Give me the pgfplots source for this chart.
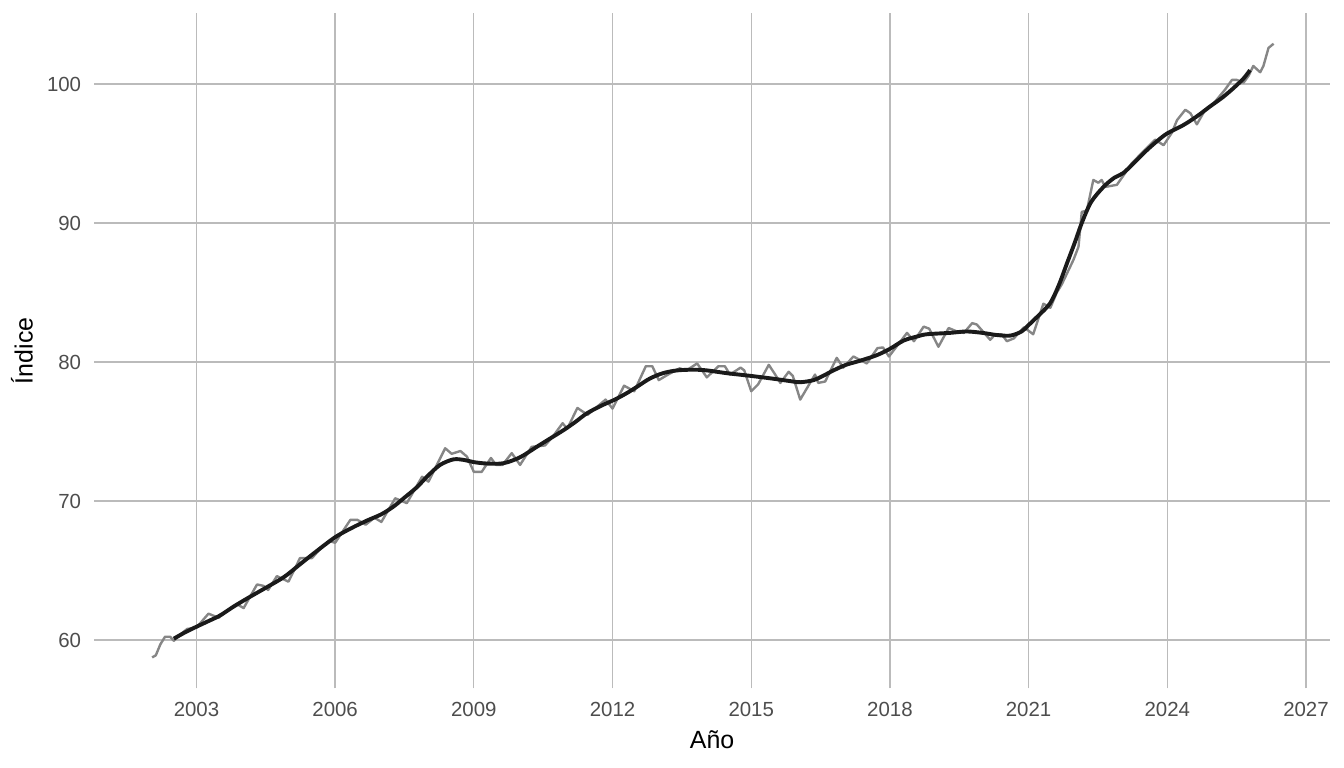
\documentclass[border=0pt]{standalone}
\usepackage{fontspec}
\setmainfont{Liberation Sans}
\usepackage{pgfplots}
\pgfplotsset{compat=1.18}
\definecolor{gridc}{HTML}{BBBBBB}
\definecolor{ticktext}{HTML}{4D4D4D}
\definecolor{rawc}{HTML}{868686}
\definecolor{smoothc}{HTML}{1A1A1A}

\begin{document}
\begin{tikzpicture}
\path[use as bounding box] (0,0) rectangle (1344bp,768bp);
\begin{axis}[
  at={(94.3bp,79.7bp)}, anchor=south west,
  scale only axis, width=1235.7bp, height=675bp,
  xmin=2000.79, xmax=2027.52, ymin=56.53, ymax=105.09,
  axis line style={draw=none},
  major tick length=0pt,
  xtick={2003,2006,...,2027}, ytick={60,70,...,100},
  grid=major, major grid style={gridc, line width=1.3bp},
  tick label style={font=\fontsize{20.5}{24}\selectfont, text=ticktext},
  /pgf/number format/assume math mode=true,
  /pgf/number format/1000 sep={},
  xticklabel style={anchor=north, inner sep=0pt, yshift=-14bp},
  yticklabel style={anchor=east, inner sep=0pt, xshift=-13bp},
  xlabel={Año}, ylabel={Índice},
  label style={font=\fontsize{25}{29}\selectfont, text=black},
  xlabel style={at={(axis description cs:0.5,-0.0899)}, anchor=base, inner sep=0pt},
  ylabel style={at={(axis description cs:-0.0499,0.5)}, anchor=base, inner sep=0pt},
]

% serie original
\addplot[rawc, line width=2.4bp, line join=round] coordinates {
(2002.04,58.75) (2002.12,58.90) (2002.22,59.70) (2002.32,60.24) (2002.43,60.24)
(2002.51,59.95) (2002.65,60.40) (2002.80,60.80) (2003.00,60.90) (2003.26,61.90)
(2003.48,61.60) (2003.70,62.20) (2003.87,62.60) (2004.02,62.30) (2004.31,64.00)
(2004.45,63.90) (2004.55,63.60) (2004.74,64.60) (2004.99,64.20) (2005.24,65.90)
(2005.50,65.90) (2005.74,66.80) (2005.90,67.10) (2006.00,67.00) (2006.33,68.65)
(2006.48,68.65) (2006.66,68.30) (2006.85,68.80) (2007.00,68.50) (2007.30,70.20)
(2007.55,69.85) (2007.88,71.75) (2008.02,71.40) (2008.38,73.80) (2008.52,73.40)
(2008.71,73.60) (2008.85,73.20) (2009.00,72.10) (2009.17,72.10) (2009.37,73.10)
(2009.48,72.60) (2009.62,72.60) (2009.82,73.45) (2010.00,72.60) (2010.25,73.90)
(2010.54,74.00) (2010.70,74.60) (2010.92,75.60) (2011.02,75.20) (2011.24,76.70)
(2011.46,76.20) (2011.85,77.30) (2012.00,76.65) (2012.25,78.30) (2012.47,77.90)
(2012.72,79.70) (2012.86,79.70) (2013.00,78.70) (2013.20,79.10) (2013.45,79.55)
(2013.60,79.40) (2013.83,79.90) (2014.04,78.90) (2014.29,79.70) (2014.43,79.70)
(2014.54,79.10) (2014.77,79.60) (2014.85,79.40) (2015.00,77.90) (2015.15,78.40)
(2015.38,79.80) (2015.50,79.20) (2015.63,78.50) (2015.81,79.30) (2015.90,79.00)
(2016.06,77.30) (2016.38,79.10) (2016.45,78.50) (2016.60,78.60) (2016.85,80.30)
(2016.99,79.60) (2017.21,80.40) (2017.50,79.90) (2017.73,81.00) (2017.85,81.05)
(2017.98,80.40) (2018.37,82.10) (2018.52,81.50) (2018.73,82.55) (2018.85,82.40)
(2019.05,81.10) (2019.27,82.45) (2019.45,82.20) (2019.60,82.10) (2019.78,82.80)
(2019.88,82.70) (2020.17,81.60) (2020.28,82.00) (2020.42,82.00) (2020.53,81.50)
(2020.68,81.70) (2020.90,82.50) (2021.10,82.00) (2021.32,84.20) (2021.47,83.90)
(2021.61,85.00) (2021.72,85.60) (2021.97,87.35) (2022.08,88.30) (2022.15,90.80)
(2022.26,90.90) (2022.40,93.10) (2022.51,92.90) (2022.58,93.10) (2022.66,92.60)
(2022.91,92.75) (2023.09,93.60) (2023.23,94.30) (2023.41,94.90) (2023.56,95.40)
(2023.74,96.00) (2023.92,95.60) (2024.10,96.50) (2024.21,97.40) (2024.39,98.15)
(2024.50,97.90) (2024.64,97.10) (2024.82,98.15) (2025.00,98.60) (2025.25,99.60)
(2025.40,100.30) (2025.50,100.30) (2025.65,100.10) (2025.76,100.60) (2025.86,101.30)
(2026.01,100.85) (2026.08,101.30) (2026.19,102.60) (2026.30,102.90)
};

% tendencia suavizada
\addplot[smoothc, line width=3.9bp, smooth, tension=0.5] coordinates {
(2002.51,60.10) (2002.75,60.55) (2003.00,60.96) (2003.25,61.35) (2003.50,61.75)
(2003.80,62.40) (2004.10,63.00) (2004.52,63.80) (2004.90,64.55) (2005.24,65.45)
(2005.60,66.40) (2006.00,67.40) (2006.35,68.05) (2006.69,68.60) (2007.00,69.05)
(2007.26,69.60) (2007.50,70.25) (2007.77,71.00) (2008.00,71.80) (2008.27,72.60)
(2008.56,73.00) (2008.80,72.95) (2009.00,72.80) (2009.28,72.70) (2009.64,72.72)
(2010.00,73.15) (2010.36,73.90) (2010.65,74.50) (2010.94,75.10) (2011.20,75.70)
(2011.44,76.30) (2011.75,76.85) (2012.05,77.30) (2012.30,77.75) (2012.52,78.20)
(2012.80,78.80) (2013.09,79.20) (2013.40,79.40) (2013.75,79.45) (2014.04,79.40)
(2014.47,79.20) (2015.00,79.00) (2015.48,78.80) (2015.80,78.65) (2016.06,78.55)
(2016.35,78.70) (2016.55,79.00) (2016.78,79.40) (2017.05,79.80) (2017.36,80.10)
(2017.72,80.50) (2018.00,80.95) (2018.30,81.55) (2018.60,81.85) (2018.80,82.00)
(2019.30,82.10) (2019.66,82.20) (2020.00,82.10) (2020.30,81.95) (2020.60,81.90)
(2020.85,82.20) (2021.00,82.66) (2021.20,83.30) (2021.46,84.20) (2021.65,85.50)
(2021.83,87.10) (2022.00,88.60) (2022.15,90.00) (2022.35,91.50) (2022.62,92.60)
(2022.85,93.25) (2023.05,93.60) (2023.30,94.40) (2023.56,95.25) (2023.80,95.95)
(2024.00,96.45) (2024.35,97.05) (2024.65,97.70) (2024.93,98.40) (2025.20,99.05)
(2025.43,99.70) (2025.65,100.40) (2025.79,101.00)
};

\end{axis}
\end{tikzpicture}
\end{document}
